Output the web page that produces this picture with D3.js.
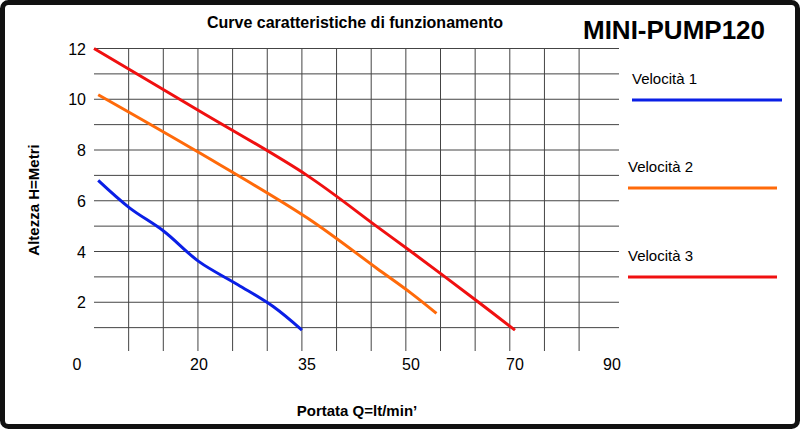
<!DOCTYPE html>
<html><head><meta charset="utf-8">
<script src="https://cdn.jsdelivr.net/npm/d3@7"></script>
<style>body{margin:0;background:#fff}svg{display:block;font-family:"Liberation Sans",Arial,sans-serif}</style>
</head><body><svg id="c" width="800" height="429"></svg>
<script>
// x tick labels (non-uniform, as in the original sheet)
const xTicks = [20, 35, 50, 70, 90];
const yTicks = [2, 4, 6, 8, 10, 12];
const velocita1 = [[0.8,6.8],[6.7,5.73],[13.3,4.8],[20,3.6],[25.4,2.69],[30.3,1.83],[34.3,0.9]];
const velocita2 = [[0.8,10.18],[20,7.9],[35,5.33],[45,3.35],[50,2.36],[54.9,1.56]];
const velocita3 = [[0,12],[20,9.55],[35,7],[45,5],[50,4],[63,2],[70,0.9]];
const series = [
  {name:"Velocità 1", data:velocita1, color:"#0a1fe6", ly:100, lx:632, lx2:782},
  {name:"Velocità 2", data:velocita2, color:"#ff6a0a", ly:188, lx:628, lx2:777},
  {name:"Velocità 3", data:velocita3, color:"#f01010", ly:277, lx:628, lx2:777}
];

const svg = d3.select("#c");
// piecewise scale: tick labels are not evenly spaced
const x = d3.scaleLinear().domain([0,20,35,50,70,90]).range([94,199,307,411,515,612]);
const y = d3.scaleLinear().domain([0,12]).range([353,48.5]);

// frame
svg.append("rect").attr("x",2.5).attr("y",2.5).attr("width",795).attr("height",424)
  .attr("rx",6).attr("fill","none").attr("stroke","#111").attr("stroke-width",5);

const g = svg.append("g");
for (let i = 1; i <= 14; i++) {
  const px = 94 + i * 34.65;
  g.append("line").attr("x1",px).attr("x2",px).attr("y1",48).attr("y2",351)
    .attr("stroke","#444").attr("stroke-width",1);
}
for (let v = 1; v <= 12; v++) {
  g.append("line").attr("x1",94).attr("x2",619).attr("y1",y(v)).attr("y2",y(v))
    .attr("stroke","#444").attr("stroke-width",1);
}

svg.selectAll(".yt").data(yTicks).join("text").attr("x",86).attr("y",d=>y(d)+6)
  .attr("text-anchor","end").attr("font-size",16).text(d=>d);
svg.append("text").attr("x",77).attr("y",370).attr("font-size",16).attr("text-anchor","middle").text("0");
svg.selectAll(".xt").data(xTicks).join("text").attr("x",d=>x(d)).attr("y",370)
  .attr("text-anchor","middle").attr("font-size",16).text(d=>d);

const line = d3.line().x(d=>x(d[0])).y(d=>y(d[1])).curve(d3.curveCatmullRom.alpha(0.5));
series.forEach(s => {
  svg.append("path").attr("d",line(s.data)).attr("fill","none")
    .attr("stroke",s.color).attr("stroke-width",3);
  svg.append("text").attr("x",s.lx).attr("y",s.ly-16).attr("font-size",15).text(s.name);
  svg.append("line").attr("x1",s.lx).attr("x2",s.lx2)
    .attr("y1",s.ly).attr("y2",s.ly).attr("stroke",s.color).attr("stroke-width",3);
});

svg.append("text").attr("x",355).attr("y",28).attr("text-anchor","middle")
  .attr("font-size",16).attr("font-weight","bold").text("Curve caratteristiche di funzionamento");
svg.append("text").attr("x",674).attr("y",39).attr("text-anchor","middle")
  .attr("font-size",26).attr("font-weight","bold").text("MINI-PUMP120");
svg.append("text").attr("transform","translate(39,200) rotate(-90)").attr("text-anchor","middle")
  .attr("font-size",15).attr("font-weight","bold").text("Altezza H=Metri");
svg.append("text").attr("x",357).attr("y",416).attr("text-anchor","middle")
  .attr("font-size",15).attr("font-weight","bold").text("Portata Q=lt/min’");
</script></body></html>
